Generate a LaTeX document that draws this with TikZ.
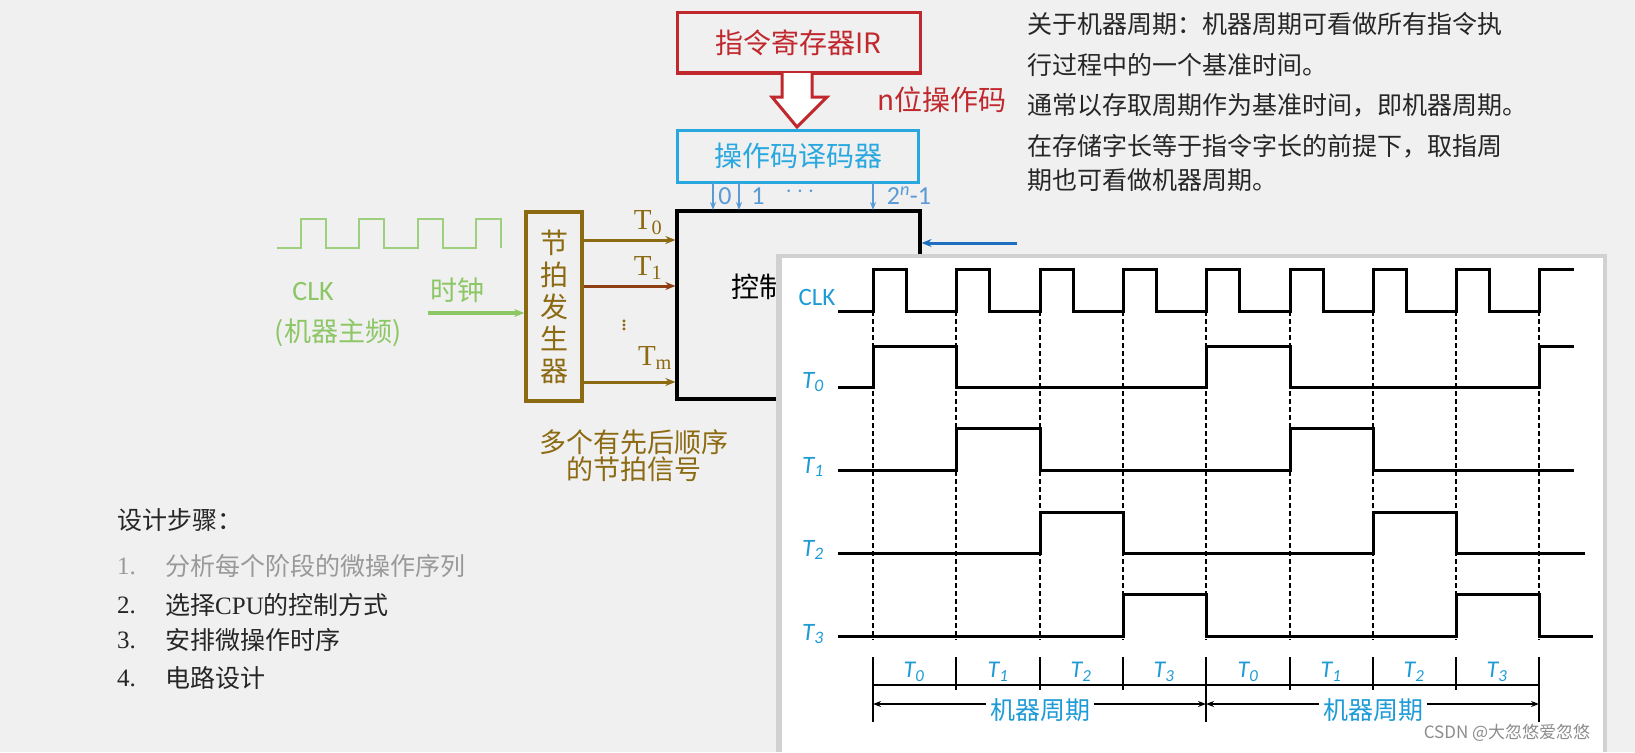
\documentclass[tikz,border=0pt]{standalone}
\usepackage{fontspec}
\setmainfont{Noto Sans CJK SC}
\newfontfamily\lat{Carlito}
\newfontfamily\ser{Liberation Serif}
\usetikzlibrary{arrows.meta}
\definecolor{irred}{HTML}{C0282D}
\definecolor{deccyan}{HTML}{29A8E0}
\definecolor{decblue}{HTML}{5B9BD5}
\definecolor{clkgreen}{HTML}{8CC665}
\definecolor{brn}{HTML}{8B6A12}
\definecolor{rbrn}{HTML}{8E3E12}
\definecolor{tblue}{HTML}{1E9BD7}
\definecolor{arrblue}{HTML}{1F6FC0}
\newcommand{\fs}[1]{\fontsize{#1}{#1}\selectfont}
\tikzset{
  wave/.style={line width=3pt, line join=miter},
  dsh/.style={line width=1.3pt, dash pattern=on 5pt off 3pt},
  tlab/.style={text=tblue, font=\lat\itshape\fs{25}},
  arr/.style={-{Stealth[length=10pt,width=8pt]}, line width=3pt},
  body/.style={font=\fs{25}, anchor=west, inner sep=0pt},
}
\begin{document}
\begin{tikzpicture}[x=1pt,y=-1pt]
\useasboundingbox (0,0) rectangle (1635,752);
\fill[white!94!black] (0,0) rectangle (1635,752);
% IR
\node[draw=irred, line width=3pt, minimum width=243pt, minimum height=60pt, text=irred, font=\fs{28}] (ir) at (798.5,43) {指令寄存器IR};
\draw[irred, line width=3pt, fill=white] (782,73) -- (782,97) -- (772,97) -- (797,127) -- (827,97) -- (812,97) -- (812,73);
\node[text=irred, font=\fs{28}, anchor=west] (nop) at (874,100) {n位操作码};
% decoder
\node[draw=deccyan, line width=3pt, minimum width=241pt, minimum height=52pt, text=deccyan, font=\fs{28}] (dec) at (798,156) {操作码译码器};
% control box
\node[draw=black, line width=3.2pt, minimum width=243pt, minimum height=188pt] (ctrl) at (798.5,305) {};
\node[font=\fs{28}] (ctxt) at (773,287) {控制器};
\node[font=\lat\fs{28}] (cu) at (800,325) {CU};
\foreach \x in {713,739,873}{
  \draw[decblue, line width=1.6pt, -{Stealth[length=8pt,width=6pt]}] (\x,183) -- (\x,210);}
\node[text=decblue, font=\lat\fs{26}] (o0) at (725,196) {0};
\node[text=decblue, font=\lat\fs{26}] (o1) at (758,196) {1};
\node[text=decblue, font=\lat\fs{26}] (od) at (800,192) {$\cdots$};
\node[text=decblue, font=\lat\fs{26}] (on) at (909,196) {2\textsuperscript{\itshape n}-1};
\coordinate (bsrc) at (1017,243);
\draw[arrblue, arr] (bsrc) -- (ctrl.east |- bsrc);
% clock generator
\draw[clkgreen!85!white, line width=1.8pt] (277,248) \foreach \r/\f in {301/326,359/384,418/443}{ -- (\r,248) -- (\r,219) -- (\f,219) -- (\f,248)} -- (476,248) -- (476,219) -- (501,219) -- (501,248);
\node[text=clkgreen, font=\lat\fs{28}] (clk) at (313,292) {CLK};
\node[text=clkgreen, font=\fs{27}] (clkm) at (338,333) {(机器主频)};
\node[text=clkgreen, font=\fs{27}] (sz) at (457,290) {时钟};
\node[draw=brn, line width=3.5pt, minimum width=56pt, minimum height=189pt, text=brn, font=\fs{28}, align=center, inner sep=0pt] (beat) at (554,306.5) {节\\[4pt]拍\\[4pt]发\\[4pt]生\\[4pt]器};
\coordinate (gin) at (428,313);
\draw[clkgreen, arr, line width=3.5pt] (gin) -- (beat.west |- gin);
\foreach \y/\c in {240/brn,286/rbrn,382/brn}{
  \draw[\c, line width=3pt, -{Stealth[length=10pt,width=8pt]}] (beat.east |- 0,\y) -- (ctrl.west |- 0,\y);}
\node[text=brn, font=\ser\fs{29}] (t0) at (648,223) {T\textsubscript{0}};
\node[text=brn, font=\ser\fs{29}] (t1) at (648,268) {T\textsubscript{1}};
\node[text=brn, font=\ser\fs{24}, inner sep=0pt] (tdd) at (624,322) {$\vdots$};
\node[text=brn, font=\ser\fs{29}] (tm) at (655,358) {T\textsubscript{m}};
\node[text=brn, font=\fs{27}, align=center] (multi) at (634,456) {多个有先后顺序\\的节拍信号};
% top right text
\node[body, text=black!85] (p1) at (1027,24) {关于机器周期：机器周期可看做所有指令执};
\node[body, text=black!85] (p2) at (1027,65) {行过程中的一个基准时间。};
\node[body, text=black!85] (p3) at (1027,105) {通常以存取周期作为基准时间，即机器周期。};
\node[body, text=black!85] (p4) at (1027,146) {在存储字长等于指令字长的前提下，取指周};
\node[body, text=black!85] (p5) at (1027,180) {期也可看做机器周期。};
% bottom left
\node[body, text=black!85] (s0) at (117,520) {设计步骤：};
\node[body, text=black!40, font=\ser\fs{25}] (n1) at (117,566) {1.};
\node[body, text=black!40] (s1) at (165,566) {分析每个阶段的微操作序列};
\node[body, text=black!85, font=\ser\fs{25}] (n2) at (117,605) {2.};
\node[body, text=black!85] (s2) at (165,605) {选择{\ser CPU}的控制方式};
\node[body, text=black!85, font=\ser\fs{25}] (n3) at (117,640) {3.};
\node[body, text=black!85] (s3) at (165,640) {安排微操作时序};
\node[body, text=black!85, font=\ser\fs{25}] (n4) at (117,678) {4.};
\node[body, text=black!85] (s4) at (165,678) {电路设计};
% timing panel
\fill[black!18] (776,254) rectangle (1607,752);
\fill[white] (782,258) rectangle (1603,752);
\node[tlab, font=\lat\fs{25}] (lclk) at (817,297) {CLK};
\node[tlab] (l0) at (813,382) {T\textsubscript{0}};
\node[tlab] (l1) at (813,467) {T\textsubscript{1}};
\node[tlab] (l2) at (813,550) {T\textsubscript{2}};
\node[tlab] (l3) at (813,634) {T\textsubscript{3}};
\foreach \e in {873,956,1040,1123,1206,1290,1373,1456,1539}{
  \draw[dsh] (\e,311) -- (\e,640);
  \draw[line width=1.6pt] (\e,657) -- (\e,690);}
\foreach \e in {873,1206,1539}{\draw[line width=1.6pt] (\e,657) -- (\e,722);}
\draw[wave] (838,311) \foreach \e in {873,956,1040,1123,1206,1290,1373,1456}{ -- (\e,311) -- (\e,269) -- ({\e+33},269) -- ({\e+33},311)} -- (1539,311) -- (1539,269) -- (1574,269);
\draw[wave] (838,387) -- (873,387) -- (873,346) -- (956,346) -- (956,387) -- (1206,387) -- (1206,346) -- (1290,346) -- (1290,387) -- (1539,387) -- (1539,346) -- (1574,346);
\draw[wave] (838,470) -- (956,470) -- (956,428) -- (1040,428) -- (1040,470) -- (1290,470) -- (1290,428) -- (1373,428) -- (1373,470) -- (1574,470);
\draw[wave] (838,553) -- (1040,553) -- (1040,512) -- (1123,512) -- (1123,553) -- (1373,553) -- (1373,512) -- (1456,512) -- (1456,553) -- (1585,553);
\draw[wave] (838,636) -- (1123,636) -- (1123,594) -- (1206,594) -- (1206,636) -- (1456,636) -- (1456,594) -- (1539,594) -- (1539,636) -- (1593,636);
\draw[line width=1.6pt] (873,685) -- (1539,685);
\foreach \m/\i [count=\k] in {914/0,998/1,1081/2,1164/3,1248/0,1331/1,1414/2,1497/3}{
  \node[tlab, font=\lat\itshape\fs{24}] (b\k) at (\m,672) {T\textsubscript{\i}};}
\node[text=tblue, font=\fs{25}] (mc1) at (1040,710) {机器周期};
\node[text=tblue, font=\fs{25}] (mc2) at (1373,710) {机器周期};
\draw[line width=1.6pt, {Stealth[length=8pt,width=6pt]}-] (873,704) -- (mc1.west |- 0,704);
\draw[line width=1.6pt, -{Stealth[length=8pt,width=6pt]}] (mc1.east |- 0,704) -- (1206,704);
\draw[line width=1.6pt, {Stealth[length=8pt,width=6pt]}-] (1206,704) -- (mc2.west |- 0,704);
\draw[line width=1.6pt, -{Stealth[length=8pt,width=6pt]}] (mc2.east |- 0,704) -- (1539,704);
\node[text=black!45, font=\fs{17}] (wm) at (1507,733) {CSDN @大忽悠爱忽悠};
\end{tikzpicture}
\end{document}
